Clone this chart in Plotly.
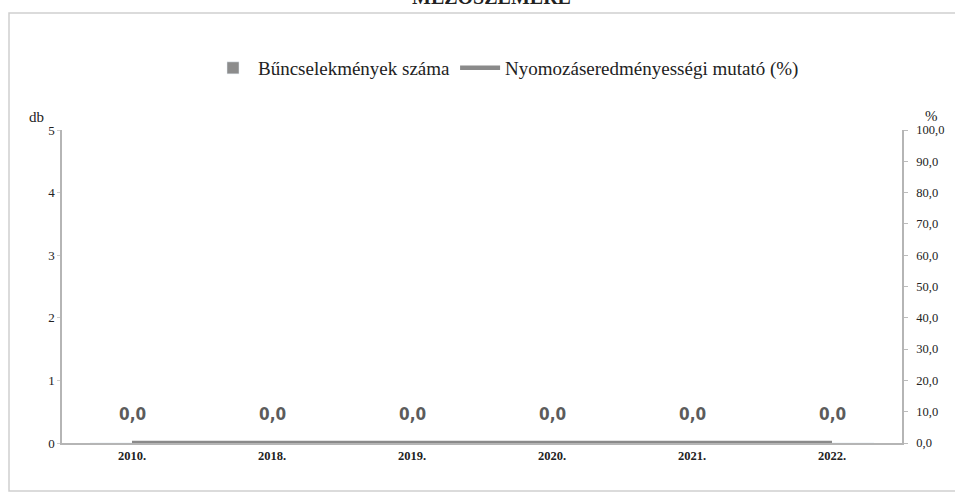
import plotly.graph_objects as go

categories = ["2010.", "2018.", "2019.", "2020.", "2021.", "2022."]
crimes = [0, 0, 0, 0, 0, 0]
rate_pct = [0.0, 0.0, 0.0, 0.0, 0.0, 0.0]
left_ticks = [0, 1, 2, 3, 4, 5]
right_ticks = [0, 10, 20, 30, 40, 50, 60, 70, 80, 90, 100]

W, H = 955, 493
L, R, T, B = 62, 53, 130, 50
pw, ph = W - L - R, H - T - B

def px_x(p):
    return (p - L) / pw

def px_y(p):
    return 1 + (T - p) / ph

serif = "Liberation Serif, Times New Roman, serif"

fig = go.Figure()
fig.add_trace(go.Bar(
    x=categories, y=crimes, name="Bűncselekmények száma",
    marker_color="#8c8c8c", yaxis="y",
))
fig.add_trace(go.Scatter(
    x=categories, y=rate_pct, name="Nyomozáseredményességi mutató (%)",
    mode="lines", line=dict(color="#8a8a8a", width=4.5), yaxis="y2",
))

for i, v in enumerate(rate_pct):
    fig.add_annotation(
        x=i, y=v, xref="x", yref="y2", yshift=29, showarrow=False,
        text="<b>" + f"{v:.1f}".replace(".", ",") + "</b>",
        font=dict(family="DejaVu Sans Condensed, Liberation Sans Narrow, sans-serif",
                  size=17, color="#5c5c5c"),
    )

# partially visible title at the very top
fig.add_annotation(
    x=px_x(492), y=px_y(-3), xref="paper", yref="paper", showarrow=False,
    text="<b>MEZŐSZEMERE</b>", font=dict(family=serif, size=20, color="#222"),
    xanchor="center", yanchor="middle",
)
fig.add_annotation(x=px_x(27), y=px_y(107), xref="paper", yref="paper", showarrow=False,
                   text="db", font=dict(family=serif, size=15, color="#222"))
fig.add_annotation(x=px_x(940), y=px_y(106), xref="paper", yref="paper", showarrow=False,
                   text="%", font=dict(family=serif, size=15, color="#222"))

fig.add_shape(type="rect", xref="paper", yref="paper",
              x0=px_x(9), x1=px_x(965), y0=px_y(491), y1=px_y(13),
              line=dict(color="#cfcfcf", width=1.5), fillcolor="rgba(0,0,0,0)", layer="below")

fig.update_layout(
    width=W, height=H,
    margin=dict(l=L, r=R, t=T, b=B),
    paper_bgcolor="white", plot_bgcolor="white",
    separators=", ",
    font=dict(family=serif, color="#222"),
    showlegend=True,
    legend=dict(orientation="h", x=px_x(506), xanchor="center", y=px_y(68), yanchor="middle",
                font=dict(family=serif, size=19, color="#222"), itemwidth=40),
    xaxis=dict(type="category", categoryarray=categories, range=[-0.5, len(categories) - 0.5],
               showgrid=False, showline=True, linecolor="#b5b5b5",
               linewidth=1.5, ticks="", tickfont=dict(family=serif, size=12.5, color="#222"),
               tickprefix="<b>", ticksuffix="</b>"),
    yaxis=dict(range=[0, 5], tickvals=left_ticks, showgrid=False, showline=True,
               linecolor="#b5b5b5", linewidth=1.5, ticks="outside", ticklen=3,
               tickcolor="#cccccc", zeroline=False,
               tickfont=dict(family=serif, size=13, color="#222")),
    yaxis2=dict(range=[0, 100], tickvals=right_ticks, tickformat=".1f", overlaying="y",
                side="right", showgrid=False, showline=True, linecolor="#b5b5b5",
                linewidth=1.5, ticks="outside", ticklen=4, tickcolor="#bbbbbb",
                ticklabelstandoff=6,
                zeroline=False, tickfont=dict(family=serif, size=12.5, color="#222")),
    bargap=0.4,
)

fig.write_html("out.html", config={"displayModeBar": False},
               post_script="document.body.style.margin='0';document.body.style.overflow='hidden';")
